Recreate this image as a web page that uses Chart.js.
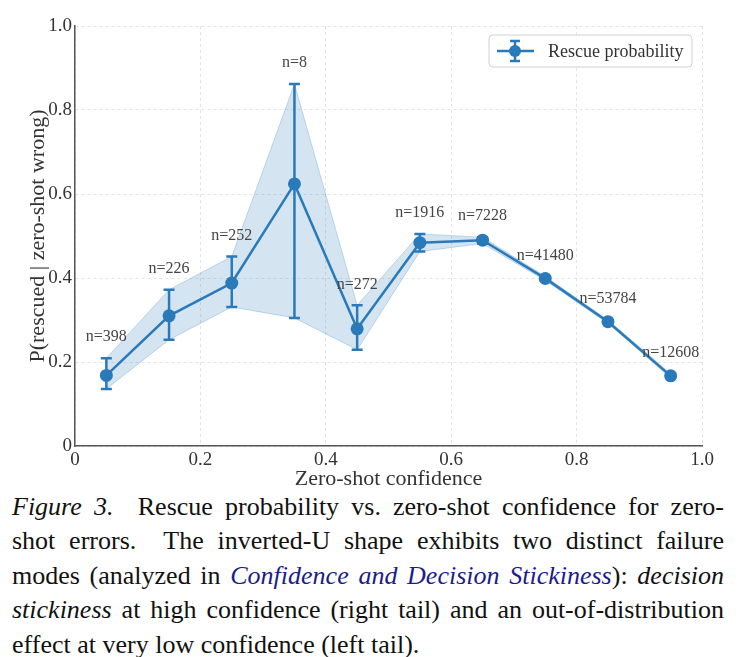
<!DOCTYPE html>
<html>
<head>
<meta charset="utf-8">
<title>Rescue probability vs. zero-shot confidence</title>
<script src="https://cdn.jsdelivr.net/npm/chart.js@4.4.1/dist/chart.umd.min.js"></script>
<style>
  html, body { margin: 0; padding: 0; background: #fff; }
  #wrap { width: 739px; height: 490px; position: relative; }
  #caption {
    font-family: "Liberation Serif", Tinos, "Times New Roman", Times, "DejaVu Serif", serif;
    font-size: 26px;
    line-height: 34.4px;
    color: #111;
    padding: 0 15px 0 12px;
  }
  #caption .ln { text-align: justify; text-align-last: justify; white-space: nowrap; }
  #caption .ln.last { text-align-last: left; }
  #caption .ref { color: #1c1c8a; font-style: italic; }
</style>
</head>
<body>
<div id="wrap"><canvas id="rescue_chart"></canvas></div>
<div id="caption">
  <div class="ln"><i>Figure 3.</i>&nbsp; Rescue probability vs. zero-shot confidence for zero-</div>
  <div class="ln">shot errors.&nbsp; The inverted-U shape exhibits two distinct failure</div>
  <div class="ln">modes (analyzed in <span class="ref">Confidence and Decision Stickiness</span>): <i>decision</i></div>
  <div class="ln"><i>stickiness</i> at high confidence (right tail) and an out-of-distribution</div>
  <div class="ln last">effect at very low confidence (left tail).</div>
</div>
<script>
// bin centres and rescue rates
const confidence = [0.05, 0.15, 0.25, 0.35, 0.45, 0.55, 0.65, 0.75, 0.85, 0.95];
const rescueProb = [0.168, 0.310, 0.388, 0.624, 0.279, 0.484, 0.490, 0.399, 0.296, 0.167];
const errLower = [0.136, 0.253, 0.331, 0.305, 0.229, 0.463, 0.482, 0.394, 0.292, 0.162];
const errUpper = [0.209, 0.372, 0.451, 0.862, 0.335, 0.505, 0.497, 0.404, 0.300, 0.172];
const sampleCounts = [398, 226, 252, 8, 272, 1916, 7228, 41480, 53784, 12608];

const xTitle = 'Zero-shot confidence';
const yTitle = 'P(rescued | zero-shot wrong)';
const seriesLabel = 'Rescue probability';

const BLUE = '#2a7ab9';
const BAND = 'rgba(42, 122, 185, 0.2)';
const SERIF = '"Liberation Serif", Tinos, "Times New Roman", Times, "DejaVu Serif", serif';

const pts = arr => confidence.map((x, i) => ({ x: x, y: arr[i] }));
const fmtTick = v => (v === 0 ? '0' : v.toFixed(1));

// error bars, n= labels, axis titles and the legend box
const extrasPlugin = {
    id: 'extras',
    afterDatasetsDraw(chart) {
        const ctx = chart.ctx;
        const xs = chart.scales.x, ys = chart.scales.y;
        ctx.save();
        ctx.strokeStyle = BLUE;
        ctx.lineWidth = 2.5;
        confidence.forEach((c, i) => {
            const px = xs.getPixelForValue(c);
            const top = ys.getPixelForValue(errUpper[i]);
            const bot = ys.getPixelForValue(errLower[i]);
            ctx.beginPath();
            ctx.moveTo(px, top); ctx.lineTo(px, bot);
            ctx.moveTo(px - 5.5, top); ctx.lineTo(px + 5.5, top);
            ctx.moveTo(px - 5.5, bot); ctx.lineTo(px + 5.5, bot);
            ctx.stroke();
        });
        ctx.fillStyle = '#444';
        ctx.font = '16px ' + SERIF;
        ctx.textAlign = 'center';
        ctx.textBaseline = 'middle';
        confidence.forEach((c, i) => {
            ctx.fillText('n=' + sampleCounts[i], xs.getPixelForValue(c), ys.getPixelForValue(errUpper[i] + 0.05));
        });
        ctx.restore();
    },
    afterDraw(chart) {
        const ctx = chart.ctx;
        const area = chart.chartArea;
        ctx.save();
        ctx.fillStyle = '#333';
        ctx.font = '22px ' + SERIF;
        ctx.textAlign = 'center';
        ctx.textBaseline = 'middle';
        ctx.fillText(xTitle, (area.left + area.right) / 2, area.bottom + 33);
        ctx.translate(area.left - 37, (area.top + area.bottom) / 2);
        ctx.rotate(-Math.PI / 2);
        ctx.fillText(yTitle, 0, 0);
        ctx.restore();

        // legend, upper right inside the axes
        const lx = area.right - 213, ly = area.top + 9, lw = 203, lh = 32;
        ctx.save();
        ctx.fillStyle = 'rgba(255,255,255,0.85)';
        ctx.strokeStyle = '#d0d0d0';
        ctx.lineWidth = 1;
        ctx.beginPath();
        ctx.roundRect(lx, ly, lw, lh, 4);
        ctx.fill(); ctx.stroke();
        const cy = ly + lh / 2, cx = lx + 26;
        ctx.strokeStyle = BLUE;
        ctx.fillStyle = BLUE;
        ctx.lineWidth = 2.5;
        ctx.beginPath();
        ctx.moveTo(lx + 8, cy); ctx.lineTo(lx + 45, cy);
        ctx.moveTo(cx, cy - 10); ctx.lineTo(cx, cy + 10);
        ctx.moveTo(cx - 5, cy - 10); ctx.lineTo(cx + 5, cy - 10);
        ctx.moveTo(cx - 5, cy + 10); ctx.lineTo(cx + 5, cy + 10);
        ctx.stroke();
        ctx.beginPath();
        ctx.arc(cx, cy, 6, 0, Math.PI * 2);
        ctx.fill();
        ctx.fillStyle = '#333';
        ctx.font = '18px ' + SERIF;
        ctx.textAlign = 'left';
        ctx.textBaseline = 'middle';
        ctx.fillText(seriesLabel, lx + 59, cy + 1);
        ctx.restore();
    }
};

document.addEventListener('DOMContentLoaded', function () {
    const ctx = document.getElementById('rescue_chart').getContext('2d');
    new Chart(ctx, {
        type: 'line',
        data: {
            datasets: [
                {
                    label: seriesLabel,
                    data: pts(rescueProb),
                    borderColor: BLUE,
                    backgroundColor: BLUE,
                    borderWidth: 2.5,
                    pointRadius: 6.5,
                    pointHoverRadius: 6.5,
                    pointBorderWidth: 0,
                    fill: false,
                    tension: 0,
                    order: 1
                },
                {
                    label: 'upper',
                    data: pts(errUpper),
                    borderColor: 'rgba(42, 122, 185, 0.25)',
                    backgroundColor: BAND,
                    borderWidth: 1,
                    pointRadius: 0,
                    fill: '+1',
                    tension: 0,
                    order: 3
                },
                {
                    label: 'lower',
                    data: pts(errLower),
                    borderColor: 'rgba(42, 122, 185, 0.25)',
                    backgroundColor: BAND,
                    borderWidth: 1,
                    pointRadius: 0,
                    fill: false,
                    tension: 0,
                    order: 3
                }
            ]
        },
        options: {
            responsive: true,
            maintainAspectRatio: false,
            animation: false,
            layout: { padding: { top: 26, right: 37, left: 0, bottom: 0 } },
            plugins: {
                legend: { display: false },
                tooltip: { enabled: false }
            },
            scales: {
                x: {
                    type: 'linear',
                    min: 0,
                    max: 1,
                    afterFit: s => { s.height = 44; },
                    ticks: {
                        stepSize: 0.2,
                        padding: 3,
                        color: '#333',
                        font: { family: SERIF, size: 19 },
                        callback: fmtTick,
                        maxRotation: 0
                    },
                    grid: { color: '#e4e4e4', lineWidth: 1, drawTicks: false },
                    border: { display: true, color: '#555', width: 1.5, dash: [3, 3] }
                },
                y: {
                    min: 0,
                    max: 1,
                    afterFit: s => { s.width = 75; },
                    ticks: {
                        stepSize: 0.2,
                        padding: 3,
                        color: '#333',
                        font: { family: SERIF, size: 19 },
                        callback: fmtTick
                    },
                    grid: { color: '#e4e4e4', lineWidth: 1, drawTicks: false },
                    border: { display: true, color: '#555', width: 1.5, dash: [3, 3] }
                }
            }
        },
        plugins: [extrasPlugin]
    });
});
</script>
</body>
</html>
